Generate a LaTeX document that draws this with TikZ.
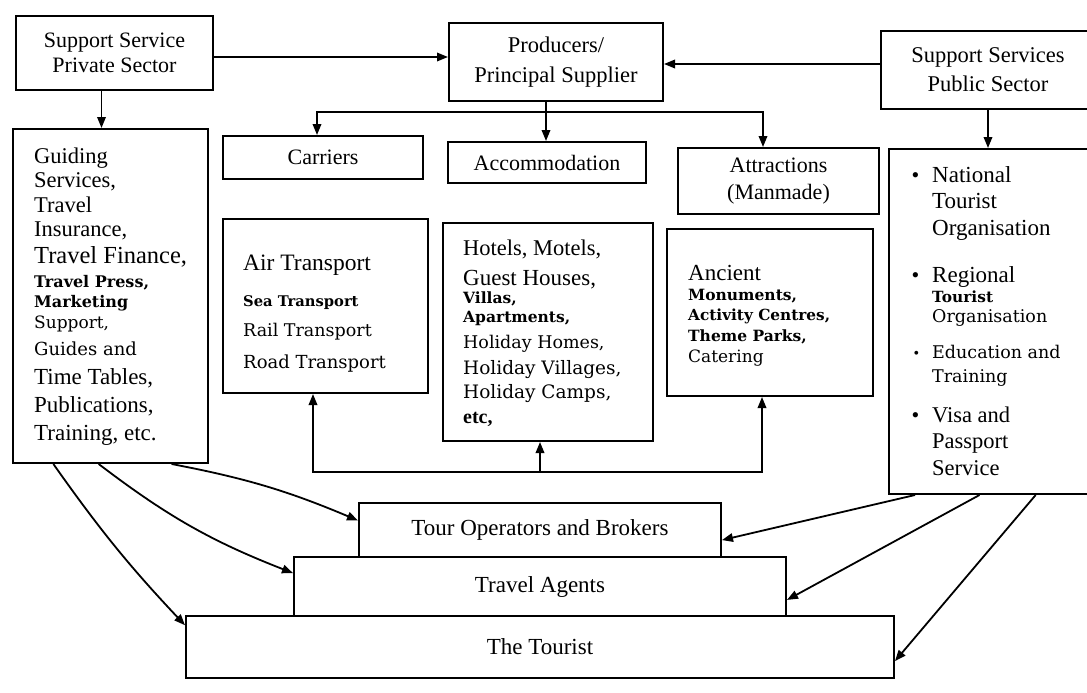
\documentclass[tikz,border=0pt]{standalone}
\usepackage{fontspec}
\setmainfont{Liberation Serif}
\newfontfamily\dvs{DejaVu Serif}
\usetikzlibrary{arrows.meta,calc}
% font size with a tight leading
\newcommand\fs[1]{\fontsize{#1}{#1}\selectfont}
% one text line whose baseline sits #1 below the previous one
\newcommand\tline[2]{\hbox{\vrule height #1pt depth 0pt width 0pt\smash{#2}}}
\newcommand\tblock[1]{\vbox{\offinterlineskip #1}}
\newcommand\bul[1]{\llap{\fs{#1}\textbullet\hspace{13pt}}}
\tikzset{
  box/.style={draw, line width=2pt, inner sep=0pt, anchor=north west, align=center},
  txt/.style={inner sep=0pt, anchor=north west},
  conn/.style={line width=1.8pt},
  arr/.style={line width=1.8pt, -{Triangle[length=11pt,width=8.5pt]}},
}
\begin{document}
\begin{tikzpicture}[x=1pt,y=-1pt]
\clip (0,0) rectangle (1087,693);
\fill[white] (0,0) rectangle (1087,693);

% top row
\node[box, minimum width=197pt, minimum height=74pt, font=\fontsize{22}{25}\selectfont]
  (priv) at (15,15) {Support Service\\Private Sector};
\node[box, minimum width=214pt, minimum height=78pt, font=\fontsize{22.5}{30}\selectfont]
  (prod) at (448,22) {Producers/\\Principal Supplier};
\node[box, minimum width=214pt, minimum height=78pt, font=\fontsize{22.5}{29}\selectfont]
  (pub) at (880,30) {Support Services\\Public Sector};

% supplier categories
\node[box, minimum width=200pt, minimum height=43pt, font=\fs{22}] (car) at (222,135) {Carriers};
\node[box, minimum width=198pt, minimum height=41pt, font=\fs{22}] (acc) at (447,141) {Accommodation};
\node[box, minimum width=201pt, minimum height=66pt, font=\fontsize{22}{27}\selectfont]
  (att) at (677,147) {Attractions\\(Manmade)};

% large content boxes
\node[box, minimum width=195pt, minimum height=334pt] (guid) at (12,128) {};
\node[box, minimum width=205pt, minimum height=174pt] (air) at (222,218) {};
\node[box, minimum width=210pt, minimum height=218pt] (hot) at (442,222) {};
\node[box, minimum width=206pt, minimum height=167pt] (anc) at (666,228) {};
\node[box, minimum width=206pt, minimum height=345pt] (list) at (888,148) {};

\node[txt] (guidtxt) at (34,143) {\tblock{%
  \tline{20}{\fs{22.5}Guiding}
  \tline{24}{\fs{22.5}Services,}
  \tline{25}{\fs{22.5}Travel}
  \tline{24}{\fs{22.5}Insurance,}
  \tline{27}{\fs{24.5}Travel Finance,}
  \tline{24}{\dvs\bfseries\fs{16}Travel Press,}
  \tline{20}{\dvs\bfseries\fs{16}Marketing}
  \tline{21}{\dvs\fs{17}Support,}
  \tline{27}{\dvs\fs{18}Guides and}
  \tline{29}{\fs{23}Time Tables,}
  \tline{28}{\fs{23}Publications,}
  \tline{28}{\fs{23}Training, etc.}}};

\node[txt] (airtxt) at (243,250) {\tblock{%
  \tline{20}{\fs{23.5}Air Transport}
  \tline{36}{\dvs\bfseries\fs{14.7}Sea Transport}
  \tline{30}{\dvs\fs{17.5}Rail Transport}
  \tline{32}{\dvs\fs{18}Road Transport}}};

\node[txt] (hottxt) at (463,235) {\tblock{%
  \tline{20}{\fs{22.5}Hotels, Motels,}
  \tline{30}{\fs{23}Guest Houses,}
  \tline{18}{\dvs\bfseries\fs{15.5}Villas,}
  \tline{19}{\dvs\bfseries\fs{15.5}Apartments,}
  \tline{26}{\dvs\fs{17.5}Holiday Homes,}
  \tline{26}{\dvs\fs{18.5}Holiday Villages,}
  \tline{24}{\dvs\fs{18.5}Holiday Camps,}
  \tline{25}{\bfseries\fs{20}etc,}}};

\node[txt] (anctxt) at (688,260) {\tblock{%
  \tline{20}{\fs{23}Ancient}
  \tline{20}{\dvs\bfseries\fs{15.5}Monuments,}
  \tline{20}{\dvs\bfseries\fs{15.3}Activity Centres,}
  \tline{21}{\dvs\bfseries\fs{15.5}Theme Parks,}
  \tline{21}{\dvs\fs{17}Catering}}};

\node[txt] (listtxt) at (932,162) {\tblock{%
  \tline{20}{\bul{22}\fs{23}National}
  \tline{26}{\fs{23}Tourist}
  \tline{27}{\fs{23}Organisation}
  \tline{47}{\bul{22}\fs{23}Regional}
  \tline{20}{\dvs\bfseries\fs{15.4}Tourist}
  \tline{20}{\dvs\fs{17.5}Organisation}
  \tline{36}{\bul{16}\dvs\fs{17.5}Education and}
  \tline{24}{\dvs\fs{17.5}Training}
  \tline{40}{\bul{22}\fs{22.5}Visa and}
  \tline{26}{\fs{22.5}Passport}
  \tline{27}{\fs{22.5}Service}}};

% distribution chain
\node[box, minimum width=362pt, minimum height=54pt, font=\fs{23}] (tour) at (358,502) {Tour Operators and Brokers};
\node[box, minimum width=492pt, minimum height=59pt, font=\fs{23}] (ta) at (293,556) {Travel Agents};
\node[box, minimum width=708pt, minimum height=62pt, font=\fs{23}] (tou) at (185,615) {The Tourist};

% support services feed the principal suppliers
\coordinate (pb) at ([yshift=-4pt]priv.east);
\draw[arr] (pb) -- (pb -| prod.west);
\coordinate (pa) at ([yshift=6pt]pub.west);
\draw[arr] (pa) -- (pa -| prod.east);
\coordinate (ps) at ([xshift=-13pt]priv.south);
\draw[arr] (ps) -- (ps |- guid.north);
\draw[arr] (pub.south) -- (pub.south |- list.north);

% suppliers branch into the three categories
\coordinate (pd) at ([xshift=-10pt]prod.south);
\draw[arr] (pd) -- (pd |- acc.north);
\coordinate (bL) at (317,112);
\coordinate (bR) at (763,112);
\draw[arr] (bR) -- (bL) -- (bL |- car.north);
\draw[arr] (bL) -- (bR) -- (bR |- att.north);

% shared link back to the product boxes
\coordinate (kL) at (313,472);
\coordinate (kM) at (540,472);
\coordinate (kR) at (762,472);
\draw[arr] (kR) -- (kL) -- (kL |- air.south);
\draw[arr] (kL) -- (kR) -- (kR |- anc.south);
\draw[arr] (kM) -- (kM |- hot.south);

% private sector services to the distribution chain
\draw[arr] ($(guid.south west)!0.81!(guid.south east)$) to[bend left=6]
  ($(tour.north west)!0.33!(tour.south west)$);
\draw[arr] ($(guid.south west)!0.44!(guid.south east)$) to[bend right=8]
  ($(ta.north west)!0.28!(ta.south west)$);
\draw[arr] ($(guid.south west)!0.21!(guid.south east)$) to[bend right=4]
  ($(tou.north west)!0.16!(tou.south west)$);

% public sector services to the distribution chain
\draw[arr] ($(list.south west)!0.13!(list.south east)$) --
  ($(tour.north east)!0.68!(tour.south east)$);
\draw[arr] ($(list.south west)!0.44!(list.south east)$) --
  ($(ta.north east)!0.72!(ta.south east)$);
\draw[arr] ($(list.south west)!0.71!(list.south east)$) --
  ($(tou.north east)!0.72!(tou.south east)$);
\end{tikzpicture}
\end{document}
